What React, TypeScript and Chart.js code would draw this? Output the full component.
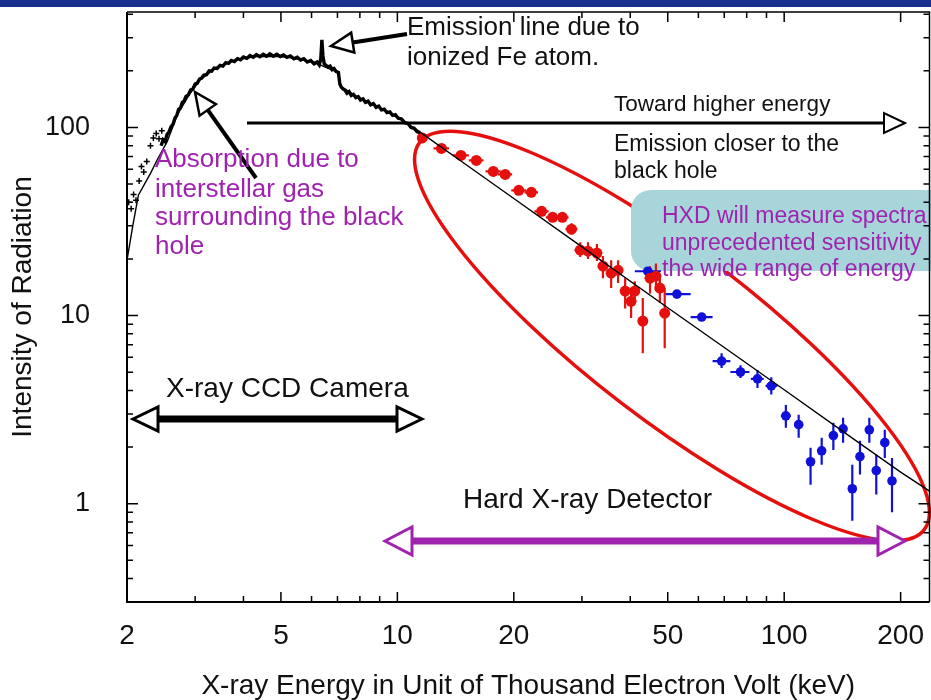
import React, { useEffect, useRef } from "react";
import { Chart, registerables } from "chart.js";

Chart.register(...registerables);

// ---------------- data ----------------
const xTickLabels = [2, 5, 10, 20, 50, 100, 200];
const yTickLabels = [1, 10, 100];

// X-ray CCD spectrum (keV, intensity)
const ccdEnergy = [
  2.45, 2.48, 2.51, 2.54, 2.57, 2.6, 2.63, 2.66, 2.69, 2.72, 2.75, 2.78, 2.81, 2.84, 2.88, 2.92, 2.96, 3.0,
  3.04, 3.08, 3.12, 3.16, 3.21, 3.26, 3.31, 3.36, 3.42, 3.48, 3.54, 3.6, 3.66, 3.72, 3.79, 3.86, 3.93, 4.0,
  4.08, 4.16, 4.24, 4.32, 4.41, 4.5, 4.59, 4.68, 4.78, 4.88, 4.98, 5.08, 5.18, 5.29, 5.4, 5.51, 5.62, 5.73,
  5.85, 5.97, 6.09, 6.2, 6.28, 6.34, 6.38, 6.42, 6.47, 6.54, 6.62, 6.7, 6.78, 6.86, 6.95, 7.04, 7.1, 7.16,
  7.24, 7.32, 7.41, 7.5, 7.6, 7.7, 7.81, 7.92, 8.03, 8.15, 8.27, 8.4, 8.53, 8.67, 8.81, 8.95, 9.1, 9.25,
  9.4, 9.56, 9.72, 9.88, 10.05, 10.25, 10.45, 10.65, 10.85, 11.05, 11.25, 11.45,
];
const ccdIntensity = [
  80, 86, 84, 92, 95, 101, 104, 112, 116, 125, 127, 136, 138, 146, 149, 158, 160, 170,
  172, 181, 183, 190, 191, 200, 199, 207, 206, 214, 212, 221, 219, 227, 224, 232, 229, 237,
  233, 241, 236, 244, 238, 245, 239, 246, 239, 245, 238, 243, 236, 240, 232, 236, 228, 232,
  223, 227, 218, 223, 215, 232, 292, 240, 218, 214, 210, 212, 203, 206, 198, 196, 170, 164,
  160, 158, 152, 155, 148, 150, 144, 146, 140, 142, 136, 138, 132, 134, 128, 130, 124, 125,
  120, 121, 116, 117, 112, 111, 106, 105, 100, 99, 95, 94,
];

// low-energy CCD points
const lowEnergy = [2.02, 2.05, 2.08, 2.11, 2.15, 2.18, 2.21, 2.25, 2.3, 2.34, 2.38, 2.42, 2.46];
const lowIntensity = [40, 37, 44, 41, 52, 62, 58, 66, 80, 88, 93, 87, 96];

// best-fit model
const modelEnergy = [
  2.0, 2.07, 2.14, 2.3, 2.4, 2.54, 2.7, 2.9, 3.1, 3.4, 3.8, 4.3, 4.9, 5.5, 6.1, 6.6, 7.05, 7.15,
  8.0, 9.0, 10.0, 11.4, 15, 20, 30, 50, 70, 100, 150, 200, 237,
];
const modelIntensity = [
  19.7, 30, 43.6, 57, 68, 84, 117, 150, 180, 208, 228, 238, 239, 233, 222, 207, 196, 165,
  143, 127, 113, 95, 63.7, 41.9, 23.2, 11.0, 6.76, 4.03, 2.23, 1.47, 1.17,
];

// HXD-PIN (red) points
const pinEnergy = [11.6, 13.0, 14.6, 16.0, 17.7, 19.0, 20.6, 22.2, 23.6, 25.2, 26.7, 28.2, 29.7, 31.1, 32.8, 34.0, 35.7, 37.2, 38.8, 40.2, 41.1, 43.1, 45.0, 46.6, 47.7, 49.1];
const pinIntensity = [88, 77.4, 71.0, 66.8, 58.4, 56.3, 46.3, 45.2, 35.8, 33.3, 33.3, 28.8, 22.3, 22.0, 21.5, 18.3, 16.8, 17.4, 13.5, 11.9, 13.5, 9.35, 15.8, 16.2, 14.0, 10.3];
const pinLow = [86, 74, 68, 64, 56, 54, 44, 43, 34, 31.5, 31.5, 27, 20.5, 20, 19.5, 15.8, 14.0, 14.9, 10.9, 9.7, 11.7, 6.3, 13.1, 13.6, 11.7, 6.7];
const pinHigh = [90, 81, 74, 70, 61, 59, 49, 48, 38, 35.5, 35.5, 31, 24.5, 24.5, 24, 20.7, 19.7, 19.7, 15.8, 14.0, 15.2, 12.4, 18.3, 18.9, 16.2, 14.0];
const pinEnergyLow = [11.3, 12.4, 13.9, 15.3, 16.9, 18.2, 19.7, 21.3, 22.6, 24.2, 25.7, 27.2, 28.7, 30.1, 31.8, 33.1, 34.8, 36.3, 37.9, 39.3, 40.2, 42.2, 44.1, 45.7, 46.8, 48.2];
const pinEnergyHigh = [11.9, 13.6, 15.3, 16.7, 18.5, 19.8, 21.5, 23.1, 24.6, 26.2, 27.7, 29.2, 30.7, 32.1, 33.8, 34.9, 36.6, 38.1, 39.7, 41.1, 42.0, 44.0, 45.9, 47.5, 48.6, 50.0];

// HXD-GSO (blue) points
const gsoEnergy = [44.4, 52.8, 61.2, 68.9, 77.1, 85.3, 92.6, 101, 109, 117, 125, 134, 142, 150, 157, 166, 173, 182, 190];
const gsoIntensity = [17.2, 13.0, 9.82, 5.73, 5.01, 4.61, 4.23, 2.93, 2.63, 1.67, 1.91, 2.3, 2.5, 1.2, 1.78, 2.47, 1.5, 2.11, 1.32];
const gsoLow = [16.6, 12.5, 9.4, 5.27, 4.65, 4.12, 3.8, 2.53, 2.24, 1.26, 1.61, 1.93, 2.11, 0.81, 1.43, 2.11, 1.12, 1.75, 0.9];
const gsoHigh = [17.8, 13.5, 10.3, 6.3, 5.45, 5.14, 4.7, 3.35, 2.97, 1.98, 2.24, 2.69, 2.86, 1.61, 2.16, 2.86, 1.82, 2.47, 1.75];
const gsoEnergyLow = [41.1, 49.4, 57.3, 65.3, 72.6, 82.0, 89.5, 98, 106, 114, 122, 131, 139, 147, 154, 163, 170, 179, 187];
const gsoEnergyHigh = [48.0, 57.3, 65.3, 72.6, 81.3, 88.5, 96.0, 104, 112, 120, 128, 137, 145, 153, 160, 169, 176, 185, 193];

// ---------------- styling ----------------
const FONT = "'Liberation Sans', Arial, Helvetica, sans-serif";
const RED = "#e5100e";
const BLUE = "#1010d8";
const PURPLE = "#a023b0";
const TEXT = "#111";

const zip = (xs: number[], ys: number[]) => xs.map((x, i) => ({ x, y: ys[i] }));
const isOneOf = (v: number, list: number[]) => list.some((t) => Math.abs(v - t) / t < 1e-6);

const errorSets = [
  { energy: pinEnergy, value: pinIntensity, lo: pinLow, hi: pinHigh, eLo: pinEnergyLow, eHi: pinEnergyHigh, color: RED, width: 2.2 },
  { energy: gsoEnergy, value: gsoIntensity, lo: gsoLow, hi: gsoHigh, eLo: gsoEnergyLow, eHi: gsoEnergyHigh, color: BLUE, width: 2.2 },
];

function openHead(ctx: CanvasRenderingContext2D, tx: number, ty: number, ang: number, len: number, half: number, color: string, lw: number) {
  const bx = tx - len * Math.cos(ang);
  const by = ty - len * Math.sin(ang);
  const px = -Math.sin(ang);
  const py = Math.cos(ang);
  ctx.beginPath();
  ctx.moveTo(tx, ty);
  ctx.lineTo(bx + px * half, by + py * half);
  ctx.lineTo(bx - px * half, by - py * half);
  ctx.closePath();
  ctx.fillStyle = "#fff";
  ctx.fill();
  ctx.lineWidth = lw;
  ctx.strokeStyle = color;
  ctx.lineJoin = "miter";
  ctx.stroke();
}

function arrow(ctx: CanvasRenderingContext2D, x1: number, y1: number, x2: number, y2: number, o: { lw: number; len: number; half: number; color: string; hlw: number; both?: boolean }) {
  const ang = Math.atan2(y2 - y1, x2 - x1);
  let sx = x1, sy = y1;
  if (o.both) {
    sx = x1 + o.len * Math.cos(ang);
    sy = y1 + o.len * Math.sin(ang);
  }
  const ex = x2 - o.len * Math.cos(ang);
  const ey = y2 - o.len * Math.sin(ang);
  ctx.beginPath();
  ctx.moveTo(sx, sy);
  ctx.lineTo(ex, ey);
  ctx.lineWidth = o.lw;
  ctx.strokeStyle = o.color;
  ctx.lineCap = "butt";
  ctx.stroke();
  openHead(ctx, x2, y2, ang, o.len, o.half, o.color, o.hlw);
  if (o.both) openHead(ctx, x1, y1, ang + Math.PI, o.len, o.half, o.color, o.hlw);
}

function text(ctx: CanvasRenderingContext2D, s: string, x: number, y: number, size: number, color: string) {
  ctx.font = `${size}px ${FONT}`;
  ctx.fillStyle = color;
  ctx.textAlign = "left";
  ctx.textBaseline = "alphabetic";
  ctx.fillText(s, x, y);
}

const zeroPad = (s: any) => {
  s.paddingTop = 0;
  s.paddingBottom = 0;
  s.paddingLeft = 0;
  s.paddingRight = 0;
};

const decorPlugin = {
  id: "decor",
  beforeDraw(chart: any) {
    const { ctx, width, height } = chart;
    ctx.save();
    ctx.fillStyle = "#fff";
    ctx.fillRect(0, 0, width, height);
    ctx.fillStyle = "#17308f";
    ctx.fillRect(0, 0, width, 7);
    ctx.restore();
  },
  beforeDatasetsDraw(chart: any) {
    const { ctx } = chart;
    const xs = chart.scales.x;
    const ys = chart.scales.y;
    ctx.save();
    // highlight ellipse
    ctx.beginPath();
    ctx.ellipse(672, 336, 318, 84, (37.5 * Math.PI) / 180, 0, Math.PI * 2);
    ctx.lineWidth = 3.5;
    ctx.strokeStyle = RED;
    ctx.stroke();
    // teal note box
    ctx.beginPath();
    (ctx as any).roundRect(631, 190, 330, 81, 20);
    ctx.fillStyle = "#a8d5da";
    ctx.fill();
    // error bars
    ctx.beginPath();
    ctx.rect(chart.chartArea.left, chart.chartArea.top, chart.chartArea.right - chart.chartArea.left, chart.chartArea.bottom - chart.chartArea.top);
    ctx.clip();
    for (const s of errorSets) {
      ctx.strokeStyle = s.color;
      ctx.lineWidth = s.width;
      s.energy.forEach((e, i) => {
        const px = xs.getPixelForValue(e);
        const py = ys.getPixelForValue(s.value[i]);
        ctx.beginPath();
        ctx.moveTo(px, ys.getPixelForValue(s.lo[i]));
        ctx.lineTo(px, ys.getPixelForValue(s.hi[i]));
        ctx.moveTo(xs.getPixelForValue(s.eLo[i]), py);
        ctx.lineTo(xs.getPixelForValue(s.eHi[i]), py);
        ctx.stroke();
      });
    }
    ctx.restore();
  },
  afterDatasetsDraw(chart: any) {
    const { ctx, chartArea } = chart;
    const xs = chart.scales.x;
    const ys = chart.scales.y;
    ctx.save();

    // frame
    ctx.strokeStyle = "#000";
    ctx.lineWidth = 2;
    ctx.beginPath();
    ctx.moveTo(chartArea.left, chartArea.top);
    ctx.lineTo(chartArea.left, chartArea.bottom);
    ctx.lineTo(chartArea.right, chartArea.bottom);
    ctx.stroke();
    ctx.lineWidth = 1.5;
    ctx.beginPath();
    ctx.moveTo(chartArea.left, chartArea.top);
    ctx.lineTo(chartArea.right, chartArea.top);
    ctx.lineTo(chartArea.right, chartArea.bottom);
    ctx.stroke();

    // inward tick marks
    ctx.lineWidth = 1.5;
    for (let d = 0; d <= 2; d++) {
      for (let m = 1; m <= 9; m++) {
        const v = m * Math.pow(10, d);
        if (v < 2 || v > 230) continue;
        const px = xs.getPixelForValue(v);
        const len = isOneOf(v, xTickLabels) ? 10 : 6;
        ctx.beginPath();
        ctx.moveTo(px, chartArea.bottom);
        ctx.lineTo(px, chartArea.bottom - len);
        ctx.moveTo(px, chartArea.top);
        ctx.lineTo(px, chartArea.top + len);
        ctx.stroke();
      }
    }
    for (let d = -1; d <= 2; d++) {
      for (let m = 1; m <= 9; m++) {
        const v = m * Math.pow(10, d);
        if (v < 0.32 || v > 410) continue;
        const py = ys.getPixelForValue(v);
        const len = m === 1 ? 11 : 6;
        ctx.beginPath();
        ctx.moveTo(chartArea.left, py);
        ctx.lineTo(chartArea.left + len, py);
        ctx.moveTo(chartArea.right, py);
        ctx.lineTo(chartArea.right - len, py);
        ctx.stroke();
      }
    }

    // arrows
    arrow(ctx, 407, 34, 331, 46, { lw: 4, len: 22, half: 10, color: "#000", hlw: 2.5 });
    arrow(ctx, 256, 178, 195, 92, { lw: 4, len: 22, half: 10, color: "#000", hlw: 2.5 });
    arrow(ctx, 247, 123, 905, 123, { lw: 3, len: 21, half: 10, color: "#000", hlw: 2 });
    arrow(ctx, 133, 419, 422, 419, { lw: 7, len: 25, half: 12, color: "#000", hlw: 3, both: true });
    arrow(ctx, 385, 541, 905, 541, { lw: 7, len: 27, half: 14, color: PURPLE, hlw: 3, both: true });

    // annotation texts
    text(ctx, "Emission line due to", 407, 35, 26, TEXT);
    text(ctx, "ionized Fe atom.", 407, 65, 26, TEXT);
    text(ctx, "Toward higher energy", 614, 111, 22.5, TEXT);
    text(ctx, "Emission closer to the", 614, 151, 23, TEXT);
    text(ctx, "black hole", 614, 178, 23, TEXT);
    text(ctx, "Absorption due to", 155, 167, 26, PURPLE);
    text(ctx, "interstellar gas", 155, 197, 26, PURPLE);
    text(ctx, "surrounding the black", 155, 225, 26, PURPLE);
    text(ctx, "hole", 155, 254, 26, PURPLE);
    text(ctx, "HXD will measure spectra with", 662, 223, 23, PURPLE);
    text(ctx, "unprecedented sensitivity", 662, 250, 23, PURPLE);
    text(ctx, "the wide range of energy", 662, 276, 23, PURPLE);
    text(ctx, "X-ray CCD Camera", 166, 397, 28, TEXT);
    text(ctx, "Hard X-ray Detector", 463, 508, 28, TEXT);

    ctx.restore();
  },
};

export default function App() {
  const ref = useRef<HTMLCanvasElement | null>(null);

  useEffect(() => {
    if (!ref.current) return;
    const chart = new Chart(ref.current, {
      type: "scatter",
      data: {
        datasets: [
          {
            label: "model",
            data: zip(modelEnergy, modelIntensity),
            showLine: true,
            borderColor: "#000",
            borderWidth: 1.4,
            pointRadius: 0,
            tension: 0,
          },
          {
            label: "CCD spectrum",
            data: zip(ccdEnergy, ccdIntensity),
            showLine: true,
            borderColor: "#000",
            borderWidth: 3.4,
            pointRadius: 0,
            tension: 0,
          },
          {
            label: "CCD low",
            data: zip(lowEnergy, lowIntensity),
            pointStyle: "cross",
            pointRadius: 3,
            borderColor: "#000",
            borderWidth: 1.5,
          },
          {
            label: "HXD PIN",
            data: zip(pinEnergy, pinIntensity),
            pointRadius: 5.5,
            backgroundColor: RED,
            borderWidth: 0,
          },
          {
            label: "HXD GSO",
            data: zip(gsoEnergy, gsoIntensity),
            pointRadius: 4.8,
            backgroundColor: BLUE,
            borderWidth: 0,
          },
        ],
      },
      options: {
        responsive: false,
        animation: false,
        devicePixelRatio: 1,
        layout: { padding: { top: 12, right: 2, left: 0, bottom: 0 } },
        plugins: { legend: { display: false }, tooltip: { enabled: false } },
        scales: {
          x: {
            type: "logarithmic",
            position: "bottom",
            min: 2,
            max: 237.5,
            grid: { display: false },
            border: { display: false },
            ticks: {
              autoSkip: false,
              maxRotation: 0,
              minRotation: 0,
              padding: 9,
              color: TEXT,
              font: { family: FONT, size: 28 },
              callback: (v: any) => (isOneOf(Number(v), xTickLabels) ? String(Math.round(Number(v))) : ""),
            },
            title: {
              display: true,
              text: "X-ray Energy in Unit of Thousand Electron Volt (keV)",
              color: TEXT,
              font: { family: FONT, size: 28 },
              padding: { top: 0, bottom: -3 },
            },
            afterFit: (s: any) => {
              s.height = 98;
              zeroPad(s);
            },
          },
          y: {
            type: "logarithmic",
            position: "left",
            min: 0.31,
            max: 411,
            grid: { display: false },
            border: { display: false },
            ticks: {
              autoSkip: false,
              padding: 29,
              color: TEXT,
              font: { family: FONT, size: 27 },
              callback: (v: any) => (isOneOf(Number(v), yTickLabels) ? String(Math.round(Number(v))) : ""),
            },
            title: {
              display: true,
              text: "Intensity of Radiation",
              color: TEXT,
              font: { family: FONT, size: 28 },
              padding: { top: 6, bottom: 0 },
            },
            afterFit: (s: any) => {
              s.width = 127;
              zeroPad(s);
            },
          },
        },
      },
      plugins: [decorPlugin],
    } as any);
    return () => chart.destroy();
  }, []);

  return (
    <div style={{ position: "fixed", left: 0, top: 0, width: 931, height: 700, overflow: "hidden", background: "#fff" }}>
      <canvas ref={ref} width={935} height={700} style={{ display: "block" }} />
    </div>
  );
}
